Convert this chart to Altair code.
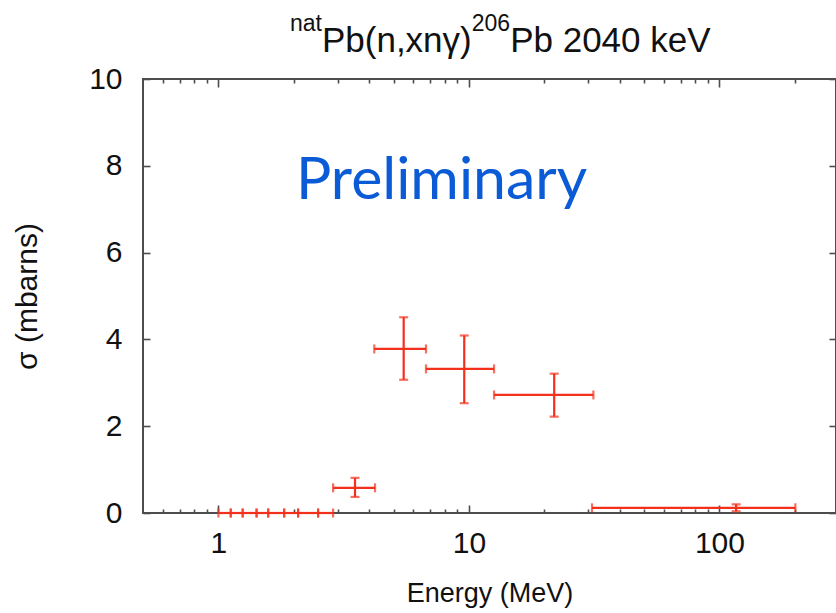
import altair as alt
import pandas as pd

# ---- data ----
energy = [1.06, 1.19, 1.33, 1.50, 1.70, 1.95, 2.28, 2.69, 3.51, 5.49, 9.58, 21.9, 116.6]
energy_low = [1.00, 1.12, 1.25, 1.42, 1.58, 1.83, 2.08, 2.50, 2.87, 4.19, 6.74, 12.6, 31.0]
energy_high = [1.12, 1.25, 1.42, 1.58, 1.83, 2.08, 2.50, 2.87, 4.22, 6.74, 12.6, 31.4, 201.0]
sigma = [0, 0, 0, 0, 0, 0, 0, 0, 0.58, 3.78, 3.32, 2.72, 0.12]
sigma_low = [0, 0, 0, 0, 0, 0, 0, 0, 0.37, 3.07, 2.53, 2.22, 0.04]
sigma_high = [0, 0, 0, 0, 0, 0, 0, 0, 0.81, 4.51, 4.09, 3.21, 0.20]

x_major = [1, 10, 100]
x_minor = [0.6, 0.7, 0.8, 0.9, 2, 3, 4, 5, 6, 7, 8, 9, 20, 30, 40, 50, 60, 70, 80, 90, 200]
y_major = [0, 2, 4, 6, 8, 10]

title_parts = ["nat", "Pb(n,xn\u03b3)", "206", "Pb 2040 keV"]
watermark = ["Preliminary"]
x_title = "Energy (MeV)"
y_title = "\u03c3 (mbarns)"

df = pd.DataFrame({
    "E": energy, "Elo": energy_low, "Ehi": energy_high,
    "s": sigma, "slo": sigma_low, "shi": sigma_high,
})

RED = "#f2301c"
AX = "#4d4d4d"
FONT = "Liberation Sans"

xs = alt.Scale(type="log", domain=[0.5, 292], nice=False)
ys = alt.Scale(domain=[0, 10], nice=False)

def xaxis(orient, values, size, labels=False, title=None):
    kw = dict(orient=orient, values=values, tickSize=size, offset=-size,
              domain=False, grid=False, labels=labels, tickColor=AX,
              tickWidth=1.6)
    if labels:
        kw.update(format="d", labelFont=FONT, labelFontSize=30, labelColor="#111",
                  labelPadding=15, labelFlush=False)
    if title:
        kw.update(title=title, titleFont=FONT, titleFontSize=27,
                  titleFontWeight="normal", titleColor="#111", titlePadding=22)
    else:
        kw.update(title=None)
    return alt.Axis(**kw)

def yaxis(orient, labels=False, title=None):
    kw = dict(orient=orient, values=y_major, tickSize=7, offset=-7,
              domain=False, grid=False, labels=labels, tickColor=AX,
              tickWidth=1.6)
    if labels:
        kw.update(labelFont=FONT, labelFontSize=30, labelColor="#111",
                  labelPadding=21, labelFlush=False)
    if title:
        kw.update(title=title, titleFont=FONT, titleFontSize=30,
                  titleFontWeight="normal", titleColor="#111", titlePadding=46)
    else:
        kw.update(title=None)
    return alt.Axis(**kw)

base = alt.Chart(df)

hbar = base.mark_rule(color=RED, strokeWidth=2.2).encode(
    x=alt.X("Elo:Q", scale=xs, axis=xaxis("bottom", x_major, 8, labels=True, title=x_title)),
    x2="Ehi:Q",
    y=alt.Y("s:Q", scale=ys, axis=yaxis("left", labels=True, title=y_title)),
)

vbar = base.mark_rule(color=RED, strokeWidth=2.2).encode(
    x=alt.X("E:Q", scale=xs, axis=xaxis("bottom", x_minor, 4)),
    y=alt.Y("slo:Q", scale=ys, axis=yaxis("right")),
    y2="shi:Q",
).transform_filter("datum.shi > datum.slo")

cap_lo = base.mark_tick(color=RED, thickness=2.2, size=9, orient="vertical").encode(
    x=alt.X("Elo:Q", scale=xs, axis=xaxis("top", x_major, 8)),
    y=alt.Y("s:Q", scale=ys, axis=None),
)
cap_hi = base.mark_tick(color=RED, thickness=2.2, size=9, orient="vertical").encode(
    x=alt.X("Ehi:Q", scale=xs, axis=xaxis("top", x_minor, 4)),
    y=alt.Y("s:Q", scale=ys, axis=None),
)
cap_ylo = base.mark_tick(color=RED, thickness=2.2, size=9, orient="horizontal").encode(
    x=alt.X("E:Q", scale=xs, axis=None),
    y=alt.Y("slo:Q", scale=ys, axis=None),
).transform_filter("datum.shi > datum.slo")
cap_yhi = base.mark_tick(color=RED, thickness=2.2, size=9, orient="horizontal").encode(
    x=alt.X("E:Q", scale=xs, axis=None),
    y=alt.Y("shi:Q", scale=ys, axis=None),
).transform_filter("datum.shi > datum.slo")

def txt(s, x, y, size, font=FONT, color="#111"):
    return alt.Chart(pd.DataFrame({"t": [s]})).mark_text(
        font=font, fontSize=size, color=color, align="left", baseline="alphabetic"
    ).encode(text="t:N", x=alt.value(x), y=alt.value(y))

# title pieces, positions relative to the plot origin (143, 79)
F, f = 35, 23
x0 = 290 - 143
t1 = txt(title_parts[0], x0, -48, f)
x1 = x0 + 1.39 * f
t2 = txt(title_parts[1], x1, -27, F)
x2 = x1 + 4.28 * F
t3 = txt(title_parts[2], x2, -48, f)
x3 = x2 + 1.668 * f
t4 = txt(title_parts[3], x3, -27, F)

prelim = txt(watermark[0], 296 - 143, 199 - 79, 59, font="Lato", color="#0b5bd7")

chart = alt.layer(
    hbar, vbar, cap_lo, cap_hi, cap_ylo, cap_yhi, t1, t2, t3, t4, prelim
).resolve_axis(x="independent", y="independent").properties(
    width=693, height=434,
    autosize=alt.AutoSizeParams(type="none"),
    padding={"left": 143, "top": 79, "right": 0, "bottom": 100},
    background="white",
).configure_view(stroke=AX, strokeWidth=2)

chart.save("out.html", embed_options={"renderer": "svg", "actions": False})
